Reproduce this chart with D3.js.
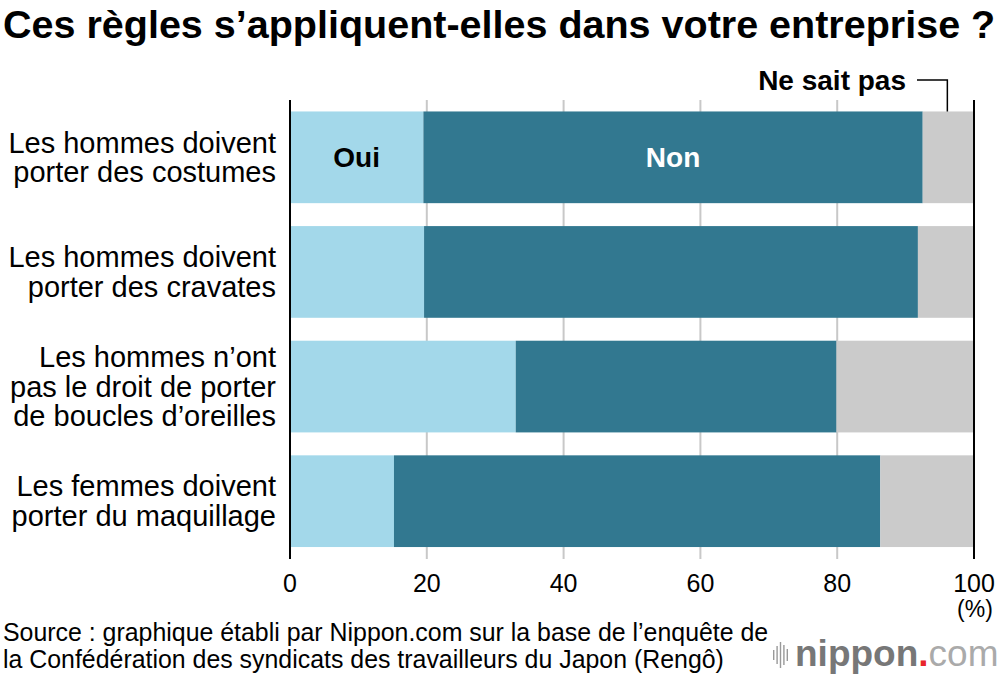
<!DOCTYPE html>
<html>
<head>
<meta charset="utf-8">
<script src="https://cdn.jsdelivr.net/npm/d3@7"></script>
<style>
  body { margin: 0; background: #fff; }
  text { font-family: "Liberation Sans", Arial, sans-serif; }
</style>
</head>
<body>
<svg id="chart" width="1000" height="676"></svg>
<script>
const title = "Ces règles s’appliquent-elles dans votre entreprise ?";
const rules = [
    ["Les hommes doivent", "porter des costumes"],
    ["Les hommes doivent", "porter des cravates"],
    ["Les hommes n’ont", "pas le droit de porter", "de boucles d’oreilles"],
    ["Les femmes doivent", "porter du maquillage"]
];
const answers = ["Oui", "Non", "Ne sait pas"];
const oui = [19.5, 19.6, 33.0, 15.2];
const non = [73.0, 72.2, 46.9, 71.1];
const nsp = [7.5, 8.2, 20.1, 13.7];
const ticks = [0, 20, 40, 60, 80, 100];
const colors = ["#a3d8ea", "#327890", "#cbcbcb"];
const source = [
    "Source : graphique établi par Nippon.com sur la base de l’enquête de",
    "la Confédération des syndicats des travailleurs du Japon (Rengô)"
];

const svg = d3.select("#chart");

const x = d3.scaleLinear().domain([0, 100]).range([290, 974]);
const y = d3.scaleBand()
    .domain(d3.range(rules.length))
    .range([100, 558.5])
    .paddingInner(0.2)
    .paddingOuter(0.1);

// title
svg.append("text")
    .attr("x", 3).attr("y", 38)
    .attr("font-size", 39.5).attr("font-weight", "bold")
    .attr("fill", "#000")
    .text(title);

// gridlines
svg.append("g").selectAll("line")
    .data(ticks.slice(1, -1))
    .join("line")
    .attr("x1", d => x(d)).attr("x2", d => x(d))
    .attr("y1", 100).attr("y2", 559)
    .attr("stroke", "#c8c8c8").attr("stroke-width", 2);

// stacked bars
const rows = rules.map((r, i) => [oui[i], non[i], nsp[i]]);
const stack = d3.stack().keys([0, 1, 2])(rows);

svg.append("g").selectAll("g")
    .data(stack)
    .join("g")
    .attr("fill", (d, k) => colors[k])
    .selectAll("rect")
    .data(d => d)
    .join("rect")
    .attr("x", d => x(d[0]))
    .attr("width", d => x(d[1]) - x(d[0]))
    .attr("y", (d, i) => y(i))
    .attr("height", y.bandwidth());

// axis end lines
svg.append("g").selectAll("line")
    .data([0, 100])
    .join("line")
    .attr("x1", d => x(d)).attr("x2", d => x(d))
    .attr("y1", 100).attr("y2", 559)
    .attr("stroke", "#000").attr("stroke-width", 2);

// tick labels
svg.append("g").selectAll("text")
    .data(ticks)
    .join("text")
    .attr("x", d => x(d)).attr("y", 592)
    .attr("text-anchor", "middle")
    .attr("font-size", 25)
    .text(d => d);

svg.append("text")
    .attr("x", x(100) + 1).attr("y", 617)
    .attr("text-anchor", "middle")
    .attr("font-size", 23)
    .text("(%)");

// category labels
const lineH = 29.5;
svg.append("g").selectAll("text")
    .data(rules)
    .join("text")
    .attr("text-anchor", "end")
    .attr("font-size", 29)
    .attr("fill", "#000")
    .each(function (lines, i) {
        const cy = y(i) + y.bandwidth() / 2;
        const y0 = cy - (lines.length - 1) * lineH / 2 + 10;
        d3.select(this).selectAll("tspan")
            .data(lines)
            .join("tspan")
            .attr("x", 276)
            .attr("y", (l, j) => y0 + j * lineH)
            .text(l => l);
    });

// segment labels on first bar
const cy0 = y(0) + y.bandwidth() / 2 + 10;
svg.append("text")
    .attr("x", x(oui[0] / 2)).attr("y", cy0)
    .attr("text-anchor", "middle")
    .attr("font-size", 28).attr("font-weight", "bold")
    .attr("fill", "#000")
    .text(answers[0]);

svg.append("text")
    .attr("x", x(oui[0] + non[0] / 2)).attr("y", cy0)
    .attr("text-anchor", "middle")
    .attr("font-size", 28).attr("font-weight", "bold")
    .attr("fill", "#fff")
    .text(answers[1]);

// "Ne sait pas" callout
const nspX = x(oui[0] + non[0] + nsp[0] / 2) - 1;
svg.append("text")
    .attr("x", 906).attr("y", 90)
    .attr("text-anchor", "end")
    .attr("font-size", 28).attr("font-weight", "bold")
    .attr("fill", "#000")
    .text(answers[2]);

svg.append("polyline")
    .attr("points", [[917, 80], [nspX, 80], [nspX, y(0)]].join(" "))
    .attr("fill", "none")
    .attr("stroke", "#000").attr("stroke-width", 1.5);

// source
svg.append("g").selectAll("text")
    .data(source)
    .join("text")
    .attr("x", 3)
    .attr("y", (d, i) => 641 + i * 27)
    .attr("font-size", 24.9)
    .attr("fill", "#000")
    .text(d => d);

// nippon.com logo
const logo = svg.append("g").attr("transform", "translate(773,0)");
const barH = [10, 18, 26, 20, 12];
logo.selectAll("rect")
    .data(barH)
    .join("rect")
    .attr("x", (d, i) => i * 3.4)
    .attr("y", d => 655 - d / 2)
    .attr("width", 1.4)
    .attr("height", d => d)
    .attr("fill", "#999");

const lt = logo.append("text")
    .attr("x", 22).attr("y", 666)
    .attr("font-size", 37)
    .attr("fill", "#777");
lt.append("tspan").attr("font-weight", "bold").text("nippon");
lt.append("tspan").attr("font-weight", "bold").attr("fill", "#e8262b").text(".");
lt.append("tspan").attr("fill", "#aaa").attr("font-weight", 300).text("com");
</script>
</body>
</html>
